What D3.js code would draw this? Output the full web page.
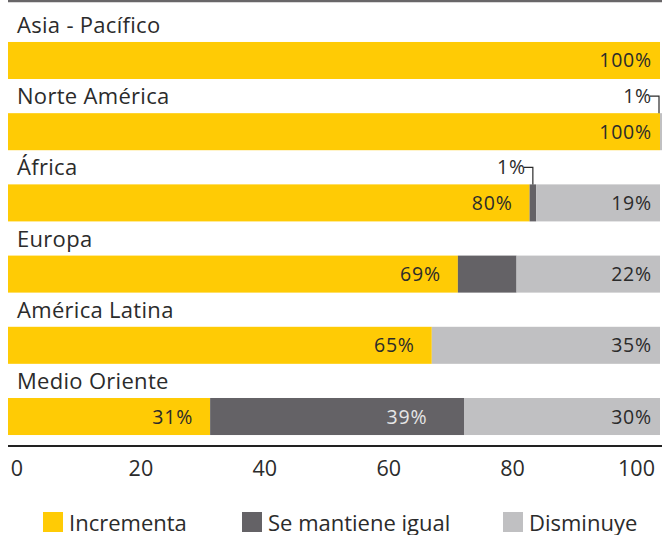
<!DOCTYPE html>
<html>
<head>
<meta charset="utf-8" />
<title></title>
<style>
  body { margin: 0; background: #fff; overflow: hidden; }
  svg { display: block; }
  text { font-family: "Open Sans", Lato, sans-serif; fill: #2b2b2b; }
</style>
</head>
<body>
<script src="https://d3js.org/d3.v7.min.js"></script>
<script>
var width = 662, height = 535;

var regions = ["Asia - Pacífico", "Norte América", "África", "Europa", "América Latina", "Medio Oriente"];
var seriesNames = ["Incrementa", "Se mantiene igual", "Disminuye"];
var incrementa = [100, 100, 80, 69, 65, 31];
var igual = [0, 0, 1, 9, 0, 39];
var disminuye = [0, 1, 19, 22, 35, 30];
// which segments get a printed label: 1 = inside bar, 2 = callout above
var showIncrementa = [1, 1, 1, 1, 1, 1];
var showIgual = [0, 0, 2, 0, 0, 1];
var showDisminuye = [0, 2, 1, 1, 1, 1];
var ticks = [0, 20, 40, 60, 80, 100];
var colors = ["#ffcb05", "#646266", "#c0c0c2"];

var svg = d3.select("body").append("svg")
    .attr("width", width)
    .attr("height", height);

var x = d3.scaleLinear().domain([0, 100]).range([8, 660]);
var xTicks = d3.scaleLinear().domain([0, 100]).range([16.5, 636]);
var y = d3.scaleBand().domain(regions).range([7.8, 469.2]).padding(0.48);

// top rule
svg.append("line")
    .attr("x1", 8).attr("x2", width)
    .attr("y1", 1).attr("y2", 1)
    .style("stroke", "#686668").style("stroke-width", 2.5);

var series = [incrementa, igual, disminuye];
var shows = [showIncrementa, showIgual, showDisminuye];

var segs = [];
regions.forEach(function(r, i) {
  var acc = 0;
  series.forEach(function(s, k) {
    segs.push({region: r, k: k, v: s[i], x0: acc, x1: acc + s[i], show: shows[k][i]});
    acc += s[i];
  });
});

var bars = svg.append("g");
bars.selectAll("rect")
  .data(segs.filter(function(d) { return d.v > 0; }))
  .enter().append("rect")
    .attr("x", function(d) { return x(d.x0); })
    .attr("y", function(d) { return y(d.region); })
    .attr("width", function(d) { return Math.min(x(d.x1), width) - x(d.x0); })
    .attr("height", y.bandwidth())
    .style("fill", function(d) { return colors[d.k]; });

// region names
svg.append("g").selectAll("text")
  .data(regions)
  .enter().append("text")
    .attr("x", 17)
    .attr("y", function(d) { return y(d) - 9; })
    .style("font-size", "22px")
    .style("letter-spacing", "0.3px")
    .text(function(d) { return d; });

// labels inside bars
var pad = [17, 37, 8];
svg.append("g").selectAll("text")
  .data(segs.filter(function(d) { return d.show == 1; }))
  .enter().append("text")
    .attr("x", function(d) { return Math.min(x(d.x1), 660) - (d.x1 >= 100 ? 8 : pad[d.k]); })
    .attr("y", function(d) { return y(d.region) + y.bandwidth() / 2 + 7; })
    .attr("text-anchor", "end")
    .style("font-size", "19.5px")
    .style("letter-spacing", "0.8px")
    .style("fill", function(d) { return d.k == 1 ? "#e6e6e6" : "#2b2b2b"; })
    .text(function(d) { return d.v + "%"; });

// callouts for tiny segments
var callouts = segs.filter(function(d) { return d.show == 2; });
var cg = svg.append("g");
callouts.forEach(function(d) {
  var cx = Math.min((x(d.x0) + Math.min(x(d.x1), 661)) / 2, 659);
  var top = y(d.region);
  var ly = top - 17;
  cg.append("path")
    .attr("d", "M" + (cx - 9) + "," + ly + "H" + cx + "V" + top)
    .style("fill", "none").style("stroke", "#2b2b2b").style("stroke-width", 1.2);
  cg.append("text")
    .attr("x", cx - 7)
    .attr("y", ly + 7)
    .attr("text-anchor", "end")
    .style("font-size", "19.5px")
    .style("letter-spacing", "0.8px")
    .text(d.v + "%");
});

// axis
svg.append("line")
    .attr("x1", 8).attr("x2", width)
    .attr("y1", 446).attr("y2", 446)
    .style("stroke", "#222").style("stroke-width", 1.8);

var axis = svg.append("g")
    .attr("transform", "translate(0,446)")
    .call(d3.axisBottom(xTicks).tickValues(ticks).tickSize(0).tickPadding(15));
axis.select(".domain").remove();
axis.selectAll("text")
    .style("font-family", "'Open Sans', Lato, sans-serif")
    .style("font-size", "21.5px")
    .style("fill", "#2b2b2b");

// legend
var legendX = [43, 242, 503];
var lg = svg.append("g").selectAll("g")
  .data(seriesNames)
  .enter().append("g")
    .attr("transform", function(d, i) { return "translate(" + legendX[i] + ",512)"; });
lg.append("rect")
    .attr("width", 20).attr("height", 20)
    .style("fill", function(d, i) { return colors[i]; });
lg.append("text")
    .attr("x", 26).attr("y", 18.5)
    .style("font-size", "22px")
    .text(function(d) { return d; });
</script>
</body>
</html>
